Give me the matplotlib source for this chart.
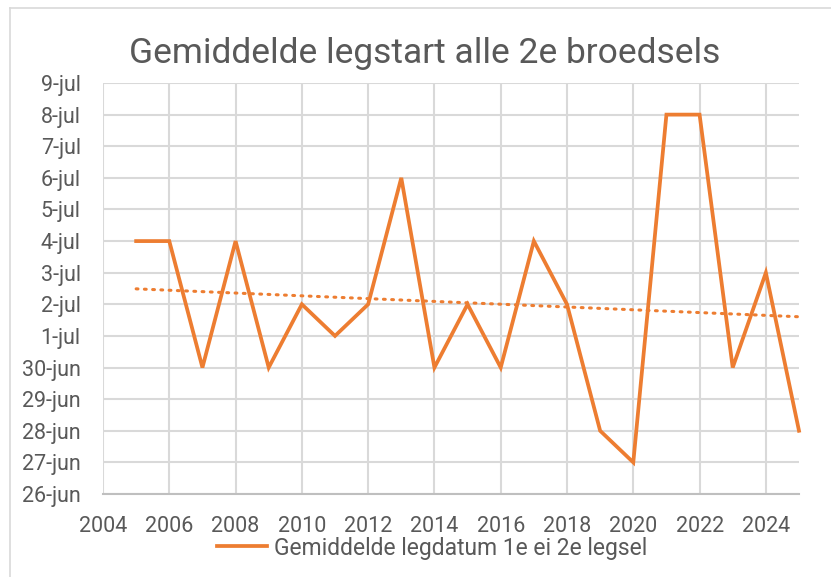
import matplotlib
matplotlib.use("Agg")
import matplotlib.pyplot as plt
import numpy as np
from matplotlib.lines import Line2D

years = list(range(2005, 2026))
dates = ["4-jul", "4-jul", "30-jun", "4-jul", "30-jun", "2-jul", "1-jul", "2-jul",
         "6-jul", "30-jun", "2-jul", "30-jun", "4-jul", "2-jul", "28-jun", "27-jun",
         "8-jul", "8-jul", "30-jun", "3-jul", "28-jun"]
ytick_labels = ["26-jun", "27-jun", "28-jun", "29-jun", "30-jun", "1-jul", "2-jul",
                "3-jul", "4-jul", "5-jul", "6-jul", "7-jul", "8-jul", "9-jul"]
xticks = list(range(2004, 2025, 2))
series_name = "Gemiddelde legdatum 1e ei 2e legsel"
title = "Gemiddelde legstart alle 2e broedsels"

orange = "#ED7D31"
grid_c = "#D9D9D9"
text_c = "#595959"
plt.rcParams['font.family'] = ['Roboto', 'DejaVu Sans']

idx = {lab: i for i, lab in enumerate(ytick_labels)}
y = np.array([idx[d] for d in dates], dtype=float)
x = np.array(years, dtype=float)

fig = plt.figure(figsize=(8.31, 5.77), dpi=100)
ax = fig.add_axes([103/831, 1-494/577, (799-103)/831, (494-83)/577])

# border of chart area
fig.add_artist(Line2D([10/831, 1], [1-8/577, 1-8/577], transform=fig.transFigure, color="#D9D9D9", lw=1.2))
fig.add_artist(Line2D([10/831, 10/831], [0, 1-8/577], transform=fig.transFigure, color="#D9D9D9", lw=1.2))

ax.set_xlim(2004, 2025)
ax.set_ylim(0, len(ytick_labels)-1)
ax.set_yticks(range(len(ytick_labels)))
ax.set_yticklabels(ytick_labels)
ax.set_xticks(xticks)
ax.set_xticklabels([str(t) for t in xticks])
ax.grid(True, color=grid_c, lw=1.5)
ax.set_axisbelow(True)
for s in ["top", "right", "left"]:
    ax.spines[s].set_visible(False)
ax.spines["bottom"].set_color("#BFBFBF")
ax.spines["bottom"].set_linewidth(1.5)
ax.tick_params(length=0, colors=text_c, labelsize=15.5)
ax.tick_params(axis='y', pad=16)
ax.tick_params(axis='x', pad=16)

line, = ax.plot(x, y, color=orange, lw=2.7, solid_joinstyle='miter', clip_on=False, zorder=3)
coef = np.polyfit(x, y, 1)
ax.plot(x, np.polyval(coef, x), color=orange, lw=2.2, ls=(0, (0.6, 2.1)),
        dash_capstyle='round', zorder=2)

fig.text(425/831, 1-63/577, title, ha='center', va='baseline', fontsize=25.5, color=text_c)
fig.legend([line], [series_name], loc='center', bbox_to_anchor=(432/831, 1-548/577),
           frameon=False, fontsize=16.5, labelcolor=text_c, handlelength=2.2,
           handletextpad=0.3)

fig.savefig("out.png", dpi=100)
